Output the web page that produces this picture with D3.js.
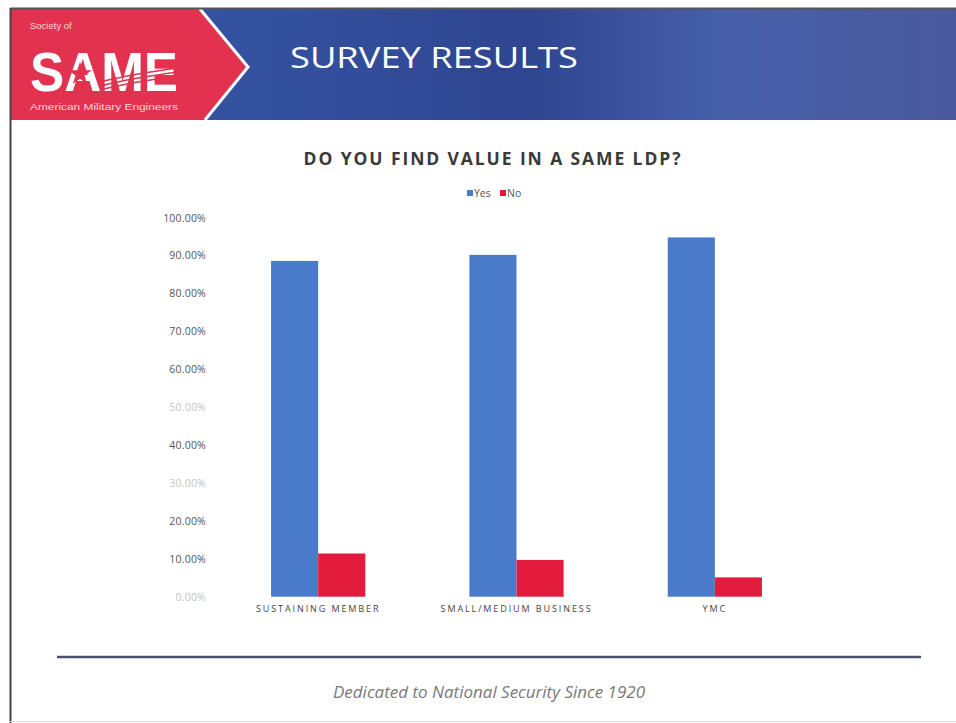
<!DOCTYPE html>
<html>
<head>
<meta charset="utf-8">
<script src="https://cdn.jsdelivr.net/npm/d3@7"></script>
<style>
  html, body { margin: 0; padding: 0; background: #fff; }
  svg { display: block; }
</style>
</head>
<body>
<script>
// ---- data ----
const categories = ["SUSTAINING MEMBER", "SMALL/MEDIUM BUSINESS", "YMC"];
const seriesNames = ["Yes", "No"];
const yesValues = [88.6, 90.2, 94.8];
const noValues = [11.4, 9.7, 5.1];
const yTicks = [0, 10, 20, 30, 40, 50, 60, 70, 80, 90, 100];
const fadedTicks = [0, 30, 50];
const chartTitle = "DO YOU FIND VALUE IN A SAME LDP?";
const slideTitle = "SURVEY RESULTS";
const footerText = "Dedicated to National Security Since 1920";

const W = 956, H = 723;
const colors = { Yes: "#4a7bcb", No: "#e31c3d" };

const svg = d3.select("body").append("svg").attr("width", W).attr("height", H);

// ---- defs ----
const defs = svg.append("defs");
const grad = defs.append("linearGradient").attr("id", "hdr").attr("x1", 0).attr("x2", 1).attr("y1", 0).attr("y2", 0);
grad.append("stop").attr("offset", "0%").attr("stop-color", "#3a58a8");
grad.append("stop").attr("offset", "30%").attr("stop-color", "#33509e");
grad.append("stop").attr("offset", "55%").attr("stop-color", "#2e4590");
grad.append("stop").attr("offset", "75%").attr("stop-color", "#4760aa");
grad.append("stop").attr("offset", "100%").attr("stop-color", "#4a5a9e");

// ---- header ----
svg.append("rect").attr("x", 11).attr("y", 9).attr("width", W - 11).attr("height", 111).attr("fill", "url(#hdr)");
svg.append("polygon")
  .attr("points", "11,9 200,9 248,67 205,120 11,120")
  .attr("fill", "#e3324f");
svg.append("polyline")
  .attr("points", "200,9 248,67 205,120")
  .attr("fill", "none").attr("stroke", "#fff").attr("stroke-width", 3);

// logo text
svg.append("text").attr("x", 30).attr("y", 29).text("Society of")
  .attr("fill", "#f6d5dc").attr("font-family", "Liberation Sans, Arial, sans-serif").attr("font-size", 9.5);
svg.append("text").attr("x", 30).attr("y", 91).text("SAME")
  .attr("fill", "#fff").attr("font-family", "Liberation Sans Narrow, Liberation Sans, Arial, sans-serif")
  .attr("font-weight", "bold").attr("font-size", 56)
  .attr("textLength", 148).attr("lengthAdjust", "spacingAndGlyphs");
// star
const star = d3.symbol().type(d3.symbolStar).size(170);
svg.append("path").attr("d", star()).attr("transform", "translate(80,74)").attr("fill", "#e3324f");
// stripes over M-E
[0, 1, 2].forEach(i => {
  svg.append("path")
    .attr("d", `M100,${82 + i * 4} C120,${77 + i * 4} 140,${73 + i * 4} 178,${68 + i * 4}`)
    .attr("fill", "none").attr("stroke", "#e3324f").attr("stroke-width", 1.5);
});
svg.append("text").attr("x", 30).attr("y", 110).text("American Military Engineers")
  .attr("fill", "#f6d5dc").attr("font-family", "Liberation Sans, Arial, sans-serif").attr("font-size", 8.5)
  .attr("textLength", 148).attr("lengthAdjust", "spacingAndGlyphs");

svg.append("text").attr("x", 290).attr("y", 68).text(slideTitle)
  .attr("fill", "#fff").attr("font-family", "Open Sans, Lato, sans-serif").attr("font-size", 29)
  .attr("textLength", 288).attr("lengthAdjust", "spacingAndGlyphs");

// frame
svg.append("line").attr("x1", 10).attr("x2", W).attr("y1", 8.5).attr("y2", 8.5).attr("stroke", "#555").attr("stroke-width", 2);
svg.append("line").attr("x1", 10.5).attr("x2", 10.5).attr("y1", 8).attr("y2", H).attr("stroke", "#444").attr("stroke-width", 2);
svg.append("line").attr("x1", 10).attr("x2", W).attr("y1", 721.5).attr("y2", 721.5).attr("stroke", "#ddd").attr("stroke-width", 1);

// ---- chart ----
const y = d3.scaleLinear().domain([0, 100]).range([596.7, 217.7]);
const x0 = d3.scaleBand().domain(categories).range([219, 814]).paddingInner(0.525).paddingOuter(0.2625);
const x1 = d3.scaleBand().domain(seriesNames).range([0, x0.bandwidth()]);

svg.append("text").attr("x", 493).attr("y", 165).attr("text-anchor", "middle").text(chartTitle)
  .attr("fill", "#3a3a3a").attr("font-family", "Open Sans, sans-serif").attr("font-weight", "bold")
  .attr("font-size", 17.5).attr("letter-spacing", 1.9);

// legend
const legend = svg.append("g").attr("font-family", "Open Sans, sans-serif").attr("font-size", 10.5).attr("fill", "#555");
const legItems = [{ name: "Yes", x: 467 }, { name: "No", x: 500 }];
legItems.forEach(d => {
  legend.append("rect").attr("x", d.x).attr("y", 190).attr("width", 6).attr("height", 6).attr("fill", colors[d.name]);
  legend.append("text").attr("x", d.x + 7).attr("y", 197).text(d.name).attr("fill", "#555");
});

// y axis
const yAxis = d3.axisLeft(y).tickValues(yTicks).tickSize(0).tickPadding(0)
  .tickFormat(d => d3.format(".2f")(d) + "%");
const yg = svg.append("g").attr("transform", "translate(206,0)").call(yAxis);
yg.select(".domain").remove();
yg.selectAll("text").attr("font-family", "Open Sans, sans-serif").attr("font-size", 10.5)
  .attr("fill", d => fadedTicks.includes(d) ? "#c4c4c4" : "#555").attr("dy", "0.32em")
  .attr("letter-spacing", 0.2);

// bars
const data = categories.map((c, i) => ({ cat: c, vals: [{ k: "Yes", v: yesValues[i] }, { k: "No", v: noValues[i] }] }));
const groups = svg.append("g").selectAll("g").data(data).join("g")
  .attr("transform", d => `translate(${x0(d.cat)},0)`);
groups.selectAll("rect").data(d => d.vals).join("rect")
  .attr("x", d => x1(d.k)).attr("width", x1.bandwidth())
  .attr("y", d => y(d.v)).attr("height", d => y(0) - y(d.v))
  .attr("fill", d => colors[d.k]);

// x axis labels
const xAxis = d3.axisBottom(x0).tickSize(0).tickPadding(0);
const xg = svg.append("g").attr("transform", "translate(0,606)").call(xAxis);
xg.select(".domain").remove();
xg.selectAll("text").attr("font-family", "Open Sans, sans-serif").attr("font-size", 9)
  .attr("fill", "#444").attr("letter-spacing", 1.9).attr("dy", "0.71em");

// ---- footer ----
svg.append("line").attr("x1", 57).attr("x2", 921).attr("y1", 657).attr("y2", 657)
  .attr("stroke", "#4b5070").attr("stroke-width", 2.5);
svg.append("text").attr("x", 489).attr("y", 698).attr("text-anchor", "middle").text(footerText)
  .attr("fill", "#7a7a7a").attr("font-family", "Open Sans, sans-serif").attr("font-style", "italic")
  .attr("font-size", 15.5).attr("textLength", 312).attr("lengthAdjust", "spacingAndGlyphs");
</script>
</body>
</html>
